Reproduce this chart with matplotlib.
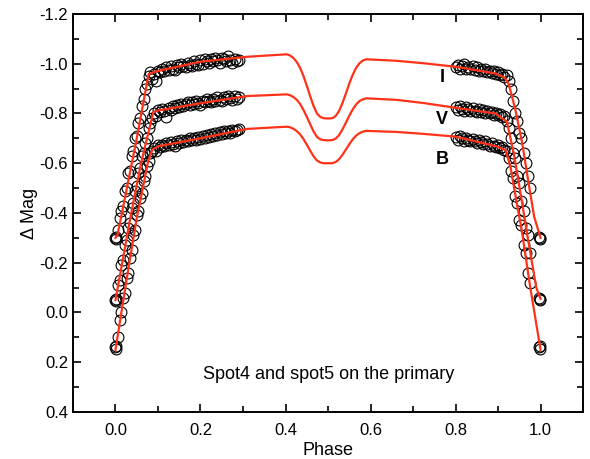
import matplotlib
matplotlib.use("Agg")
import matplotlib.pyplot as plt
from matplotlib.ticker import MultipleLocator

plt.rcParams['font.family'] = ['Liberation Sans', 'DejaVu Sans']

# ---------------- observed data ----------------
left_phase = [0.000, 0.001, 0.002, 0.006, 0.010, 0.014, 0.018, 0.022, 0.026, 0.030,
              0.034, 0.038, 0.042, 0.046, 0.050, 0.054, 0.058, 0.062, 0.066, 0.070,
              0.074, 0.078, 0.082, 0.086,
              0.090, 0.095, 0.100, 0.105, 0.110, 0.115, 0.120, 0.125, 0.130, 0.135,
              0.140, 0.145, 0.150, 0.155, 0.160, 0.165, 0.170, 0.175, 0.180, 0.185,
              0.190, 0.195, 0.200, 0.205, 0.210, 0.215, 0.220, 0.225, 0.230, 0.235,
              0.240, 0.245, 0.250, 0.255, 0.260, 0.265, 0.270, 0.275, 0.280, 0.285, 0.290]

I_left = [-0.300, -0.297, -0.303, -0.330, -0.380, -0.410, -0.430, -0.490, -0.500, -0.560,
          -0.570, -0.630, -0.650, -0.700, -0.710, -0.760, -0.780, -0.830, -0.860, -0.900,
          -0.920, -0.950, -0.965, -0.940,
          -0.960, -0.930, -0.972, -0.965, -0.978, -0.970, -0.985, -0.975, -0.990, -0.980,
          -0.975, -0.995, -0.985, -1.000, -0.990, -0.985, -1.005, -0.995, -0.990, -1.010,
          -1.000, -0.995, -1.015, -1.000, -1.020, -1.010, -1.005, -1.020, -1.010, -1.025,
          -1.015, -1.005, -1.025, -1.020, -1.010, -1.030, -1.015, -1.005, -1.020, -1.010, -1.015]

V_left = [-0.050, -0.045, -0.055, -0.110, -0.130, -0.190, -0.210, -0.270, -0.290, -0.340,
          -0.360, -0.420, -0.440, -0.490, -0.510, -0.560, -0.580, -0.630, -0.640, -0.680,
          -0.700, -0.740, -0.760, -0.780,
          -0.800, -0.790, -0.815, -0.808, -0.820, -0.812, -0.785, -0.822, -0.815, -0.830,
          -0.822, -0.835, -0.825, -0.840, -0.830, -0.838, -0.845, -0.835, -0.848, -0.840,
          -0.850, -0.842, -0.835, -0.852, -0.845, -0.858, -0.850, -0.845, -0.860, -0.852,
          -0.865, -0.855, -0.850, -0.868, -0.858, -0.870, -0.862, -0.855, -0.872, -0.860, -0.865]

B_left = [0.140, 0.145, 0.135, 0.100, 0.030, 0.000, -0.060, -0.080, -0.140, -0.160,
          -0.220, -0.250, -0.310, -0.330, -0.390, -0.410, -0.460, -0.480, -0.530, -0.550,
          -0.590, -0.610, -0.640, -0.650,
          -0.660, -0.650, -0.672, -0.665, -0.675, -0.668, -0.680, -0.672, -0.685, -0.678,
          -0.670, -0.688, -0.680, -0.692, -0.685, -0.695, -0.688, -0.700, -0.692, -0.702,
          -0.695, -0.705, -0.698, -0.710, -0.702, -0.712, -0.705, -0.718, -0.710, -0.720,
          -0.712, -0.725, -0.718, -0.728, -0.720, -0.730, -0.722, -0.735, -0.728, -0.732, -0.738]

right_phase = [0.800, 0.805, 0.810, 0.815, 0.820, 0.825, 0.830, 0.835, 0.840, 0.845,
               0.850, 0.855, 0.860, 0.865, 0.870, 0.875, 0.880, 0.885, 0.890, 0.895,
               0.900, 0.905, 0.910, 0.915, 0.920,
               0.925, 0.930, 0.935, 0.940, 0.945, 0.950, 0.955, 0.960, 0.965, 0.970, 0.975,
               0.997, 0.998, 0.999]

I_right = [-0.985, -0.995, -0.980, -0.992, -0.998, -0.978, -0.988, -0.980, -0.992, -0.975,
           -0.985, -0.972, -0.980, -0.970, -0.978, -0.965, -0.972, -0.962, -0.970, -0.958,
           -0.965, -0.955, -0.960, -0.948, -0.955,
           -0.930, -0.900, -0.850, -0.800, -0.770, -0.720, -0.700, -0.640, -0.600, -0.550, -0.500,
           -0.305, -0.300, -0.295]

V_right = [-0.825, -0.815, -0.830, -0.820, -0.812, -0.828, -0.818, -0.810, -0.822, -0.812,
           -0.805, -0.818, -0.808, -0.815, -0.800, -0.812, -0.802, -0.808, -0.795, -0.802,
           -0.792, -0.798, -0.785, -0.790, -0.770,
           -0.740, -0.700, -0.640, -0.620, -0.550, -0.520, -0.450, -0.410, -0.340, -0.310, -0.240,
           -0.060, -0.055, -0.050]

B_right = [-0.705, -0.695, -0.710, -0.700, -0.690, -0.702, -0.695, -0.688, -0.698, -0.690,
           -0.682, -0.692, -0.685, -0.678, -0.688, -0.678, -0.670, -0.680, -0.670, -0.665,
           -0.672, -0.660, -0.665, -0.655, -0.648,
           -0.620, -0.570, -0.540, -0.470, -0.440, -0.370, -0.350, -0.270, -0.240, -0.160, -0.120,
           0.140, 0.145, 0.135]

# ---------------- model (synthetic) curves ----------------
dip_phase = [0.403, 0.410, 0.418, 0.426, 0.434, 0.442, 0.450, 0.458, 0.466, 0.474, 0.482,
             0.490, 0.500, 0.510, 0.518, 0.526, 0.534, 0.542, 0.550, 0.558, 0.566, 0.574,
             0.582, 0.590]

I_model_phase = ([0.000, 0.005, 0.021, 0.050, 0.078, 0.093, 0.150, 0.200, 0.310]
                 + dip_phase
                 + [0.660, 0.725, 0.800, 0.894, 0.915, 0.925, 0.941, 0.957, 0.972, 0.985, 1.000])
I_model = ([-0.300, -0.315, -0.450, -0.700, -0.958, -0.968, -0.990, -1.008, -1.028]
           + [-1.038, -1.034, -1.024, -1.008, -0.985, -0.952, -0.912, -0.870, -0.830, -0.800, -0.786,
              -0.781, -0.780, -0.781, -0.790, -0.810, -0.842, -0.880, -0.920, -0.955, -0.983, -1.002,
              -1.013, -1.018]
           + [-1.012, -1.002, -0.988, -0.961, -0.945, -0.920, -0.814, -0.680, -0.519, -0.385, -0.300])

V_model_phase = ([0.000, 0.034, 0.060, 0.089, 0.100, 0.199, 0.309]
                 + dip_phase
                 + [0.660, 0.725, 0.800, 0.894, 0.921, 0.937, 0.953, 0.970, 0.990, 1.000])
V_model = ([-0.050, -0.372, -0.600, -0.805, -0.812, -0.841, -0.870]
           + [-0.877, -0.874, -0.867, -0.856, -0.839, -0.815, -0.787, -0.757, -0.728, -0.706, -0.696,
              -0.693, -0.692, -0.693, -0.699, -0.713, -0.736, -0.763, -0.791, -0.816, -0.836, -0.850,
              -0.857, -0.861]
           + [-0.855, -0.842, -0.823, -0.800, -0.767, -0.640, -0.479, -0.300, -0.100, -0.055])

B_model_phase = ([0.000, 0.025, 0.050, 0.065, 0.077, 0.087, 0.100, 0.199, 0.309]
                 + dip_phase
                 + [0.660, 0.725, 0.800, 0.894, 0.918, 0.930, 0.945, 0.955, 0.975, 1.000])
B_model = ([0.150, -0.120, -0.380, -0.506, -0.610, -0.655, -0.668, -0.700, -0.738]
           + [-0.747, -0.745, -0.739, -0.730, -0.717, -0.698, -0.675, -0.651, -0.628, -0.611, -0.603,
              -0.600, -0.600, -0.600, -0.605, -0.616, -0.634, -0.655, -0.676, -0.696, -0.711, -0.721,
              -0.727, -0.730]
           + [-0.726, -0.718, -0.707, -0.669, -0.653, -0.580, -0.430, -0.340, -0.110, 0.150])

band_labels = ['I', 'V', 'B']
band_label_pos = [(0.769, -0.945), (0.769, -0.776), (0.769, -0.615)]
annotation = 'Spot4 and spot5 on the primary'

# ---------------- plotting ----------------
fig = plt.figure(figsize=(5.9, 4.59), dpi=100)
ax = fig.add_axes([0.1237, 0.1024, 0.8645, 0.8671])

obs = [(I_left, I_right), (V_left, V_right), (B_left, B_right)]
for left_vals, right_vals in obs:
    for ph, vals in [(left_phase, left_vals), (right_phase, right_vals)]:
        ax.plot(ph, vals, linestyle='none', marker='o', markersize=7.8,
                markerfacecolor='none', markeredgecolor='black', markeredgewidth=0.8, zorder=2)

red = '#ff3219'
for ph, mv in [(I_model_phase, I_model), (V_model_phase, V_model), (B_model_phase, B_model)]:
    ax.plot(ph, mv, color=red, linewidth=1.6, zorder=3, solid_joinstyle='round')

for lab, (px, py) in zip(band_labels, band_label_pos):
    ax.text(px, py, lab, fontsize=13, fontweight='bold', ha='center', va='center')

ax.text(0.501, 0.251, annotation, fontsize=13, ha='center', va='center')

ax.set_xlim(-0.1, 1.1)
ax.set_ylim(0.4, -1.2)
ax.xaxis.set_minor_locator(MultipleLocator(0.1))
ax.yaxis.set_minor_locator(MultipleLocator(0.1))
xt = [0.0, 0.2, 0.4, 0.6, 0.8, 1.0]
ax.set_xticks(xt)
ax.set_xticklabels(['%.1f' % v for v in xt])
yt = [0.4, 0.2, 0.0, -0.2, -0.4, -0.6, -0.8, -1.0, -1.2]
ax.set_yticks(yt)
ax.set_yticklabels(['%.1f' % v for v in yt])

ax.tick_params(which='both', direction='in', top=True, right=True, labelsize=12, width=1.2)
ax.tick_params(which='major', length=6)
ax.tick_params(which='minor', length=4)
ax.tick_params(axis='x', pad=8)
for sp in ax.spines.values():
    sp.set_linewidth(1.4)

ax.set_xlabel('Phase', fontsize=13, labelpad=3)
ax.set_ylabel('\u0394 Mag', fontsize=13, labelpad=1)

fig.savefig('out.png', dpi=100)
